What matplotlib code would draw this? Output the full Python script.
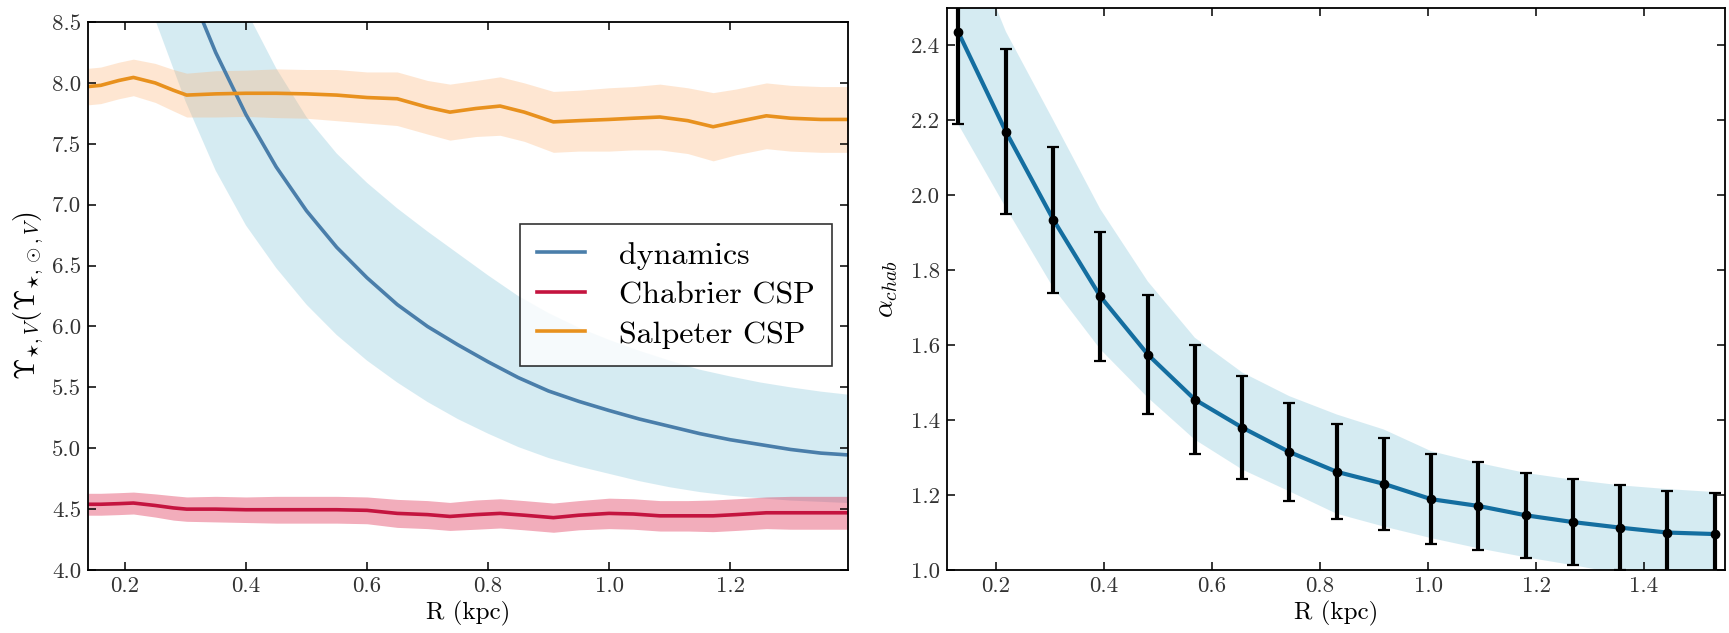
import numpy as np
import matplotlib
matplotlib.use("Agg")
import matplotlib.pyplot as plt

plt.rcParams['font.family'] = ['cmr10', 'DejaVu Serif']
plt.rcParams['mathtext.fontset'] = 'cm'
plt.rcParams['axes.formatter.use_mathtext'] = True
plt.rcParams['axes.unicode_minus'] = False

# ---------------- left panel data ----------------
R_dyn = [0.20, 0.25, 0.30, 0.35, 0.40, 0.45, 0.50, 0.55, 0.60, 0.65, 0.70, 0.75, 0.80,
         0.85, 0.90, 0.95, 1.00, 1.05, 1.10, 1.15, 1.20, 1.25, 1.30, 1.35, 1.395]
dyn = [10.3, 9.55, 8.85, 8.25, 7.74, 7.31, 6.95, 6.65, 6.40, 6.18, 6.00, 5.85, 5.71,
       5.58, 5.47, 5.385, 5.31, 5.24, 5.18, 5.12, 5.07, 5.03, 4.99, 4.96, 4.945]
dyn_lo = [9.3, 8.52, 7.85, 7.28, 6.83, 6.48, 6.18, 5.93, 5.72, 5.54, 5.38, 5.24, 5.12,
          5.01, 4.92, 4.85, 4.79, 4.73, 4.68, 4.64, 4.61, 4.59, 4.57, 4.56, 4.55]
dyn_hi = [11.2, 10.5, 9.8, 9.15, 8.60, 8.12, 7.72, 7.42, 7.18, 6.97, 6.78, 6.60, 6.42,
          6.25, 6.11, 5.99, 5.89, 5.80, 5.72, 5.645, 5.59, 5.54, 5.50, 5.465, 5.44]

R_csp = [0.139, 0.16, 0.19, 0.214, 0.25, 0.28, 0.302, 0.35, 0.40, 0.45, 0.50, 0.55, 0.60,
         0.65, 0.70, 0.737, 0.78, 0.82, 0.86, 0.908, 0.95, 1.0, 1.04, 1.084, 1.13, 1.172,
         1.21, 1.26, 1.30, 1.35, 1.395]
salp = [7.97, 7.98, 8.02, 8.045, 8.0, 7.94, 7.90, 7.91, 7.915, 7.915, 7.91, 7.90, 7.88,
        7.87, 7.80, 7.76, 7.79, 7.81, 7.76, 7.68, 7.69, 7.70, 7.71, 7.72, 7.69, 7.64,
        7.68, 7.73, 7.71, 7.70, 7.70]
salp_err = [0.15, 0.15, 0.15, 0.15, 0.16, 0.17, 0.18, 0.19, 0.19, 0.20, 0.20, 0.21, 0.21,
            0.22, 0.22, 0.23, 0.23, 0.24, 0.24, 0.25, 0.25, 0.26, 0.26, 0.27, 0.27, 0.28,
            0.27, 0.27, 0.27, 0.27, 0.27]
chab = [4.54, 4.54, 4.545, 4.55, 4.53, 4.51, 4.50, 4.50, 4.495, 4.495, 4.495, 4.495, 4.49,
        4.465, 4.455, 4.44, 4.455, 4.465, 4.45, 4.43, 4.45, 4.465, 4.46, 4.445, 4.445, 4.445,
        4.455, 4.47, 4.47, 4.47, 4.47]
chab_err = [0.09, 0.09, 0.09, 0.09, 0.095, 0.10, 0.10, 0.105, 0.105, 0.11, 0.11, 0.11, 0.11,
            0.115, 0.115, 0.115, 0.12, 0.12, 0.12, 0.12, 0.12, 0.125, 0.125, 0.125, 0.125,
            0.13, 0.13, 0.13, 0.135, 0.135, 0.135]

# ---------------- right panel data ----------------
R_pts = [0.130, 0.218, 0.306, 0.393, 0.481, 0.568, 0.656, 0.743, 0.831, 0.918, 1.006,
         1.093, 1.181, 1.268, 1.356, 1.443, 1.531]
alpha = [2.435, 2.17, 1.935, 1.73, 1.575, 1.455, 1.38, 1.315, 1.262, 1.23, 1.189,
         1.171, 1.146, 1.128, 1.113, 1.100, 1.096]
alpha_err = [0.245, 0.22, 0.195, 0.172, 0.158, 0.145, 0.138, 0.132, 0.127, 0.123, 0.12,
             0.117, 0.114, 0.114, 0.113, 0.111, 0.11]
alpha_hi = [2.75, 2.437, 2.20, 1.963, 1.77, 1.62, 1.527, 1.464, 1.415, 1.375, 1.317,
            1.286, 1.259, 1.241, 1.226, 1.216, 1.208]
alpha_lo = [2.189, 1.967, 1.753, 1.589, 1.46, 1.348, 1.268, 1.21, 1.15, 1.116, 1.085,
            1.058, 1.034, 1.013, 0.99, 0.98, 0.97]

fig = plt.figure(figsize=(17.29, 6.33), dpi=100)
ax1 = fig.add_axes([0.0509, 0.0995, 0.4396, 0.8657])
ax2 = fig.add_axes([0.5477, 0.0995, 0.4500, 0.8880])

# left panel
ax1.fill_between(R_dyn, dyn_lo, dyn_hi, color='lightblue', alpha=0.5, lw=0)
sal_lo = np.array(salp) - np.array(salp_err)
sal_hi = np.array(salp) + np.array(salp_err)
ax1.fill_between(R_csp, sal_lo, sal_hi, color='#fdae6b', alpha=0.3, lw=0)
ch_lo = np.array(chab) - np.array(chab_err)
ch_hi = np.array(chab) + np.array(chab_err)
ax1.fill_between(R_csp, ch_lo, ch_hi, color='crimson', alpha=0.35, lw=0)
ax1.plot(R_dyn, dyn, color='#4a7eaa', lw=2.6, label='dynamics')
ax1.plot(R_csp, chab, color='#c4143f', lw=2.6, label='Chabrier CSP')
ax1.plot(R_csp, salp, color='#e8911e', lw=2.6, label='Salpeter CSP')
ax1.set_xlim(0.139, 1.395)
ax1.set_ylim(4.0, 8.5)
ax1.set_xticks([0.2, 0.4, 0.6, 0.8, 1.0, 1.2])
ax1.set_yticks(np.arange(4.0, 8.51, 0.5))
ax1.set_xlabel('R (kpc)', fontsize=18, labelpad=3)
ax1.set_ylabel(r'$\Upsilon_{\star,V}(\Upsilon_{\star,\odot,V})$', fontsize=20, labelpad=4)
leg = ax1.legend(loc='center right', bbox_to_anchor=(0.979, 0.502), fontsize=23,
                 frameon=True, fancybox=False, edgecolor='black', borderaxespad=0,
                 handlelength=1.5, handletextpad=1.05, labelspacing=0.35,
                 borderpad=0.55)
leg.get_frame().set_linewidth(1.2)

# right panel
ax2.fill_between(R_pts, alpha_lo, alpha_hi, color='lightblue', alpha=0.5, lw=0)
ax2.plot(R_pts, alpha, color='#146ea0', lw=3)
ax2.errorbar(R_pts, alpha, yerr=alpha_err, fmt='o', color='black', ms=6,
             elinewidth=3, capsize=4, capthick=1.6, zorder=5)
ax2.set_xlim(0.109, 1.55)
ax2.set_ylim(1.0, 2.5)
ax2.set_xticks([0.2, 0.4, 0.6, 0.8, 1.0, 1.2, 1.4])
ax2.set_yticks(np.arange(1.0, 2.41, 0.2))
ax2.set_xlabel('R (kpc)', fontsize=18, labelpad=3)
ax2.set_ylabel(r'$\alpha_{chab}$', fontsize=20, labelpad=8)

for ax in (ax1, ax2):
    ax.tick_params(direction='in', top=True, right=True, length=6, width=1.1,
                   labelsize=16.5, labelcolor='#333333', pad=5)
    for s in ax.spines.values():
        s.set_linewidth(1.3)
    ax.xaxis.set_major_formatter(matplotlib.ticker.FormatStrFormatter('%.1f'))
    ax.yaxis.set_major_formatter(matplotlib.ticker.FormatStrFormatter('%.1f'))

fig.savefig('out.png', dpi=100)
